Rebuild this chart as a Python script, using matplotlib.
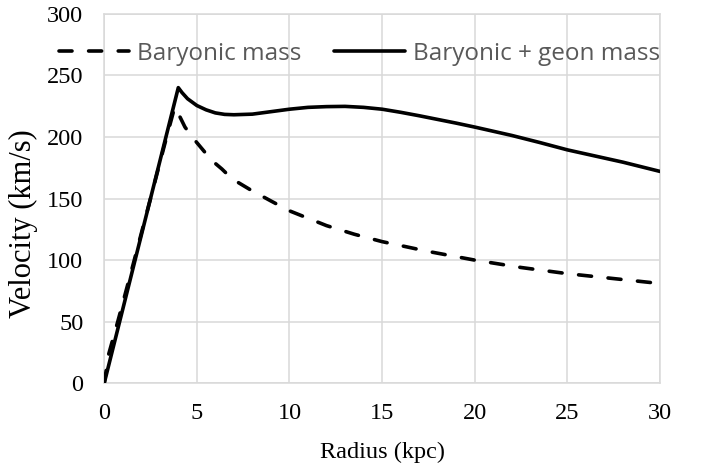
import matplotlib
matplotlib.use("Agg")
import matplotlib.pyplot as plt

# Data
r_bary = [0, 0.25, 0.75, 1.5, 2.5, 3.3, 3.8, 4.0, 4.36, 4.8, 5.3, 5.8, 6.35, 6.9, 7.9,
          9.0, 10, 11, 12, 13.5, 15, 17.5, 20, 22.5, 25, 27.5, 30]
v_bary = [0, 24, 51, 93, 150, 196, 224, 219, 208, 199, 190, 181, 174, 166, 157,
          148, 140, 134, 128, 121, 115, 107, 100, 94, 89, 85, 81]

r_geon = [0, 1, 2, 3, 4.0, 4.2, 4.5, 5, 5.5, 6, 6.5, 7, 8, 9, 10, 11, 12, 13,
          14, 15, 16, 17, 18, 19, 20, 21, 22, 23.5, 25, 26.5, 28, 30]
v_geon = [0, 60, 120, 180, 240, 236, 231, 225.5, 222, 219.5, 218.3, 218, 218.5, 220.5, 222.5, 224, 224.6, 224.8,
          224, 222.5, 220, 217.2, 214.2, 211.2, 208, 204.6, 201.2, 195.5, 189.5, 184.5, 179.5, 172]

labels = ["Baryonic mass", "Baryonic + geon mass"]
x_ticks = [0, 5, 10, 15, 20, 25, 30]
y_ticks = [0, 50, 100, 150, 200, 250, 300]

serif = "Liberation Serif"
fs = 17.5

fig = plt.figure(figsize=(7.04, 4.66), dpi=100)
ax = fig.add_axes([0.148, 0.1775, 0.7895, 0.793])

lw = 2.6
ax.plot(r_bary, v_bary, color="black", lw=lw, linestyle=(0, (3.6, 4.6)),
        dash_capstyle="round", solid_joinstyle="round", label=labels[0], zorder=3)
ax.plot(r_geon, v_geon, color="black", lw=lw, solid_capstyle="round",
        solid_joinstyle="round", label=labels[1], zorder=3)

ax.set_xlim(0, 30)
ax.set_ylim(0, 300)
ax.set_xticks(x_ticks)
ax.set_yticks(y_ticks)
ax.grid(True, color="#d9d9d9", lw=1.1, zorder=0)
ax.set_axisbelow(True)
for s in ax.spines.values():
    s.set_color("#d9d9d9")
    s.set_linewidth(1.1)
ax.tick_params(length=0, labelsize=fs)
ax.tick_params(axis="x", pad=14)
ax.tick_params(axis="y", pad=15)
for t in ax.get_xticklabels() + ax.get_yticklabels():
    t.set_fontfamily(serif)

ax.set_xlabel("Radius (kpc)", fontsize=fs, fontfamily=serif, labelpad=13)
ax.set_ylabel("Velocity (km/s)", fontsize=22, fontfamily=serif)
ax.yaxis.set_label_coords(-0.119, 0.431)

leg = ax.legend(loc="center", bbox_to_anchor=(0.459, 0.892), ncol=2, frameon=False,
                prop={"family": "Open Sans", "size": 17.5}, handlelength=2.9,
                handletextpad=0.33, columnspacing=1.35, borderaxespad=0)
for t in leg.get_texts():
    t.set_color("#595959")

fig.savefig("out.png", dpi=100)
